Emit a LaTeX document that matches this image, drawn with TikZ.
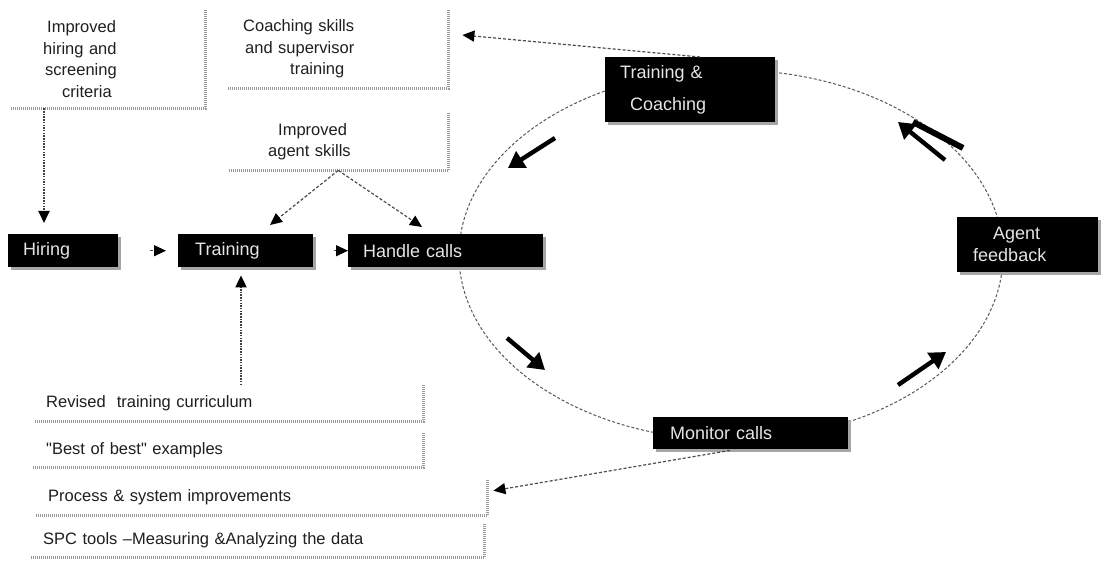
\documentclass[tikz,border=0pt]{standalone}
\usepackage{fontspec}
\setmainfont{Liberation Sans}[Ligatures=TeXOff]
\usetikzlibrary{arrows.meta,calc,shadows}

\begin{document}
\begin{tikzpicture}[x=1pt,y=-1pt,
  note/.style={fill=white, anchor=north west, align=left, text=black!88,
    font=\fontsize{16.5}{21.5}\selectfont, inner ysep=0pt},
  blk/.style={fill=black, anchor=north west, align=left, text=black!10,
    font=\fontsize{18}{22}\selectfont, inner ysep=0pt,
    drop shadow={shadow xshift=2.5pt, shadow yshift=-2.5pt, fill=black!35, opacity=1}},
  rim/.style={draw=black!40, line width=2.6pt, dash pattern=on 1pt off 1pt},
  ring/.style={draw=black!65, line width=1pt, dash pattern=on 3pt off 2pt},
  link/.style={draw=black!70, line width=1.2pt, dash pattern=on 3pt off 2pt,
    -{Triangle[length=12pt,width=11pt,color=black]}},
  vlink/.style={draw=black!75, line width=1.8pt, dash pattern=on 1.5pt off 1.2pt,
    -{Triangle[length=12pt,width=11pt,color=black]}},
  bigarrow/.style={draw=black, line width=4.4pt, -{Triangle[length=16pt,width=19pt]}}
]
\useasboundingbox[fill=white] (0,0) rectangle (1102,561);

% the improvement cycle
\draw[ring] (731,255) ellipse [x radius=272, y radius=185];

% white input notes
\node[note, inner xsep=33pt, text width=129pt, minimum height=98pt] (hirecrit) at (10,10)
  {\hspace*{4pt}Improved\\hiring and\\\hspace*{2pt}screening\\\hspace*{19pt}criteria};
\node[note, inner xsep=15pt, text width=190pt, minimum height=78pt] (coachsk) at (228,10)
  {Coaching skills\\\hspace*{2pt}and supervisor\\\hspace*{47pt}training};
\node[note, inner xsep=40pt, text width=140pt, minimum height=57pt] (agentsk) at (228,113)
  {\hspace*{10pt}Improved\\agent skills};
\node[note, inner xsep=12pt, text width=365pt, minimum height=36pt] (revised) at (34,385)
  {Revised~ training curriculum};
\node[note, inner xsep=13pt, text width=364pt, minimum height=34pt] (bestof) at (33,433)
  {"Best of best" examples};
\node[note, inner xsep=13pt, text width=426pt, minimum height=35pt] (process) at (35,480)
  {Process \& system improvements};
\node[note, inner xsep=13pt, text width=428pt, minimum height=33pt] (spc) at (30,524)
  {SPC tools –Measuring \&Analyzing the data};

\foreach \n in {hirecrit,coachsk,agentsk,revised,bestof,process,spc}
  \draw[rim] (\n.north east) -- (\n.south east) -- (\n.south west);

% black process steps
\node[blk, inner xsep=15pt, text width=80pt, minimum height=33pt] (hire) at (8,234) {Hiring};
\node[blk, inner xsep=17pt, text width=101pt, minimum height=33pt] (train) at (178,234) {Training};
\node[blk, inner xsep=15pt, text width=165pt, minimum height=33pt] (handle) at (348,234) {Handle calls};
\node[blk, inner xsep=15pt, text width=140pt, minimum height=65pt,
  font=\fontsize{18}{32}\selectfont] (coach) at (605,57)
  {Training \&\\\hspace*{10pt}Coaching};
\node[blk, inner xsep=16pt, text width=109pt, minimum height=55pt] (feedback) at (957,217)
  {\hspace*{20pt}Agent\\feedback};
\node[blk, inner xsep=17pt, text width=161pt, minimum height=32pt] (monitor) at (653,417) {Monitor calls};

% connectors
\draw[vlink] ($(hirecrit.south west)+(34,0)$) -- ($(hire.north west)+(36,-11)$);
\draw[link, shorten <=32pt, shorten >=12pt] (hire) -- (train);
\draw[link, shorten <=21pt] (train) -- (handle);
\draw[link] (agentsk.south) -- ($(train.north west)+(92,-9)$);
\draw[link] (agentsk.south) -- ($(handle.north west)+(74,-7)$);
\draw[vlink] ($(revised.north west)+(207,0)$) -- ($(train.south west)+(63,8)$);
\draw[link] ($(coach.north)+(10,0)$) -- ($(coachsk.north east)+(14,25)$);
\draw[link] ($(monitor.south west)+(77,1)$) -- ($(process.east)+(6,-7)$);

% direction markers around the cycle
\coordinate (m1a) at (555,138); \coordinate (m1b) at (508,168);
\coordinate (m2a) at (507,338); \coordinate (m2b) at (545,370);
\coordinate (m3a) at (898,385); \coordinate (m3b) at (946,352);
\coordinate (m4a) at (945,160); \coordinate (m4b) at (898,122);
\coordinate (m4c) at (913,122); \coordinate (m4d) at (963,148);
\draw[bigarrow] (m1a) -- (m1b);
\draw[bigarrow] (m2a) -- (m2b);
\draw[bigarrow] (m3a) -- (m3b);
\draw[bigarrow] (m4a) -- (m4b);
\draw[black, line width=6pt] (m4c) -- (m4d);
\end{tikzpicture}
\end{document}
